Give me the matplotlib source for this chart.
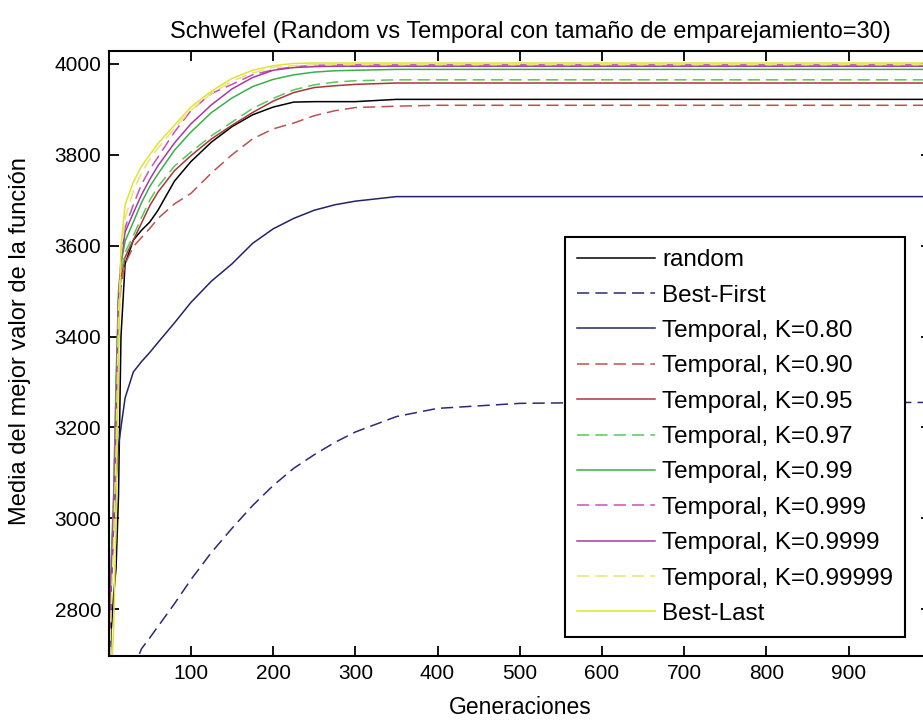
import matplotlib
matplotlib.use("Agg")
import matplotlib.pyplot as plt

plt.rcParams['font.family'] = ['Liberation Sans', 'DejaVu Sans']

# generaciones en las que se leyo cada curva
gen = [1, 3, 6, 9, 12, 15, 20, 30, 40, 50, 60, 80, 100, 125, 150, 175,
       200, 225, 250, 275, 300, 350, 400, 500, 600, 1000]

random_sel = [2650, 2750, 2830, 2890, 3050, 3400, 3560, 3612, 3634, 3652, 3678, 3742, 3785,
              3828, 3862, 3888, 3905, 3916, 3917, 3917, 3917, 3922, 3922, 3922, 3922, 3922]
best_first = [2300, 2350, 2400, 2440, 2480, 2520, 2580, 2668, 2713, 2737, 2762, 2812, 2865,
              2925, 2978, 3028, 3072, 3110, 3140, 3167, 3190, 3224, 3242, 3253, 3255, 3255]
temp_080 = [2700, 2850, 2980, 3080, 3160, 3200, 3265, 3322, 3345, 3365, 3387, 3430, 3475,
            3522, 3560, 3605, 3637, 3660, 3678, 3690, 3698, 3708, 3708, 3708, 3708, 3708]
temp_090 = [2680, 2850, 3000, 3240, 3440, 3510, 3560, 3598, 3618, 3638, 3660, 3692, 3715,
            3760, 3800, 3835, 3857, 3870, 3886, 3897, 3904, 3907, 3909, 3909, 3909, 3909]
temp_095 = [2690, 2860, 3010, 3260, 3460, 3530, 3575, 3612, 3650, 3688, 3718, 3765, 3798,
            3835, 3865, 3893, 3918, 3937, 3948, 3952, 3955, 3958, 3958, 3958, 3958, 3958]
temp_097 = [2700, 2880, 3030, 3280, 3480, 3540, 3585, 3622, 3662, 3700, 3730, 3775, 3806,
            3842, 3872, 3902, 3924, 3943, 3954, 3960, 3963, 3965, 3965, 3965, 3965, 3965]
temp_099 = [2720, 2900, 3050, 3300, 3500, 3560, 3610, 3652, 3695, 3730, 3758, 3810, 3850,
            3893, 3925, 3950, 3966, 3976, 3982, 3985, 3986, 3988, 3988, 3988, 3988, 3988]
temp_0999 = [2700, 2870, 3020, 3250, 3470, 3560, 3640, 3690, 3735, 3768, 3795, 3850, 3897,
             3935, 3955, 3976, 3987, 3994, 3997, 3998, 3998, 3998, 3998, 3998, 3998, 3998]
temp_09999 = [2700, 2850, 3000, 3200, 3480, 3570, 3630, 3672, 3712, 3746, 3776, 3826, 3868,
              3910, 3945, 3970, 3986, 3992, 3994, 3995, 3995, 3995, 3995, 3995, 3995, 3995]
temp_099999 = [2650, 2800, 2950, 3150, 3450, 3580, 3660, 3720, 3760, 3790, 3815, 3858, 3898,
               3935, 3962, 3980, 3992, 3996, 3998, 3999, 3999, 3999, 3999, 3999, 3999, 3999]
best_last = [2550, 2650, 2750, 3000, 3350, 3600, 3690, 3740, 3775, 3800, 3825, 3865, 3905,
             3940, 3968, 3986, 3996, 4001, 4002, 4002, 4002, 4002, 4002, 4002, 4002, 4002]

labels = ['random', 'Best-First', 'Temporal, K=0.80', 'Temporal, K=0.90',
          'Temporal, K=0.95', 'Temporal, K=0.97', 'Temporal, K=0.99',
          'Temporal, K=0.999', 'Temporal, K=0.9999', 'Temporal, K=0.99999', 'Best-Last']
series = [random_sel, best_first, temp_080, temp_090, temp_095, temp_097, temp_099,
          temp_0999, temp_09999, temp_099999, best_last]
colors = ['#000000', '#2a2a78', '#23236a', '#c05050', '#a83838', '#58c858', '#38b048',
          '#c850b8', '#a838a8', '#e6e670', '#e2e232']
dashed = [False, True, False, True, False, True, False, True, False, True, False]

fig = plt.figure(figsize=(9.23, 7.24), dpi=100)
ax = fig.add_axes([0.1186, 0.0939, 0.890, 0.836])

for vals, lab, col, dsh in zip(series, labels, colors, dashed):
    if dsh:
        ax.plot(gen, vals, color=col, lw=1.1, dashes=(8, 4), label=lab)
    else:
        ax.plot(gen, vals, color=col, lw=1.1, label=lab)

ax.set_xlim(1, 1000)
ax.set_ylim(2697, 4029)
ax.set_xticks([100, 200, 300, 400, 500, 600, 700, 800, 900])
ax.set_yticks([2800, 3000, 3200, 3400, 3600, 3800, 4000])
ax.tick_params(direction='in', top=True, right=True, length=7, width=1.3,
               labelsize=15, pad=6)
for sp in ax.spines.values():
    sp.set_linewidth(1.5)

ttl = ax.set_title('Schwefel (Random vs Temporal con tamaño de emparejamiento=30)',
                   fontsize=17, pad=9)
ttl.set_x(0.512)
ax.set_xlabel('Generaciones', fontsize=16.5, labelpad=9)
ax.set_ylabel('Media del mejor valor de la función', fontsize=17)
ax.yaxis.set_label_coords(-0.095, 0.521)

leg = ax.legend(loc='upper left', bbox_to_anchor=(565 / 923, 1 - 237 / 724),
                bbox_transform=fig.transFigure, borderaxespad=0, fontsize=17.5,
                fancybox=False, framealpha=1, edgecolor='black',
                handlelength=3.2, handletextpad=0.3, labelspacing=0.55,
                borderpad=0.5)
leg.get_frame().set_linewidth(1.5)

fig.savefig('out.png', dpi=100)
